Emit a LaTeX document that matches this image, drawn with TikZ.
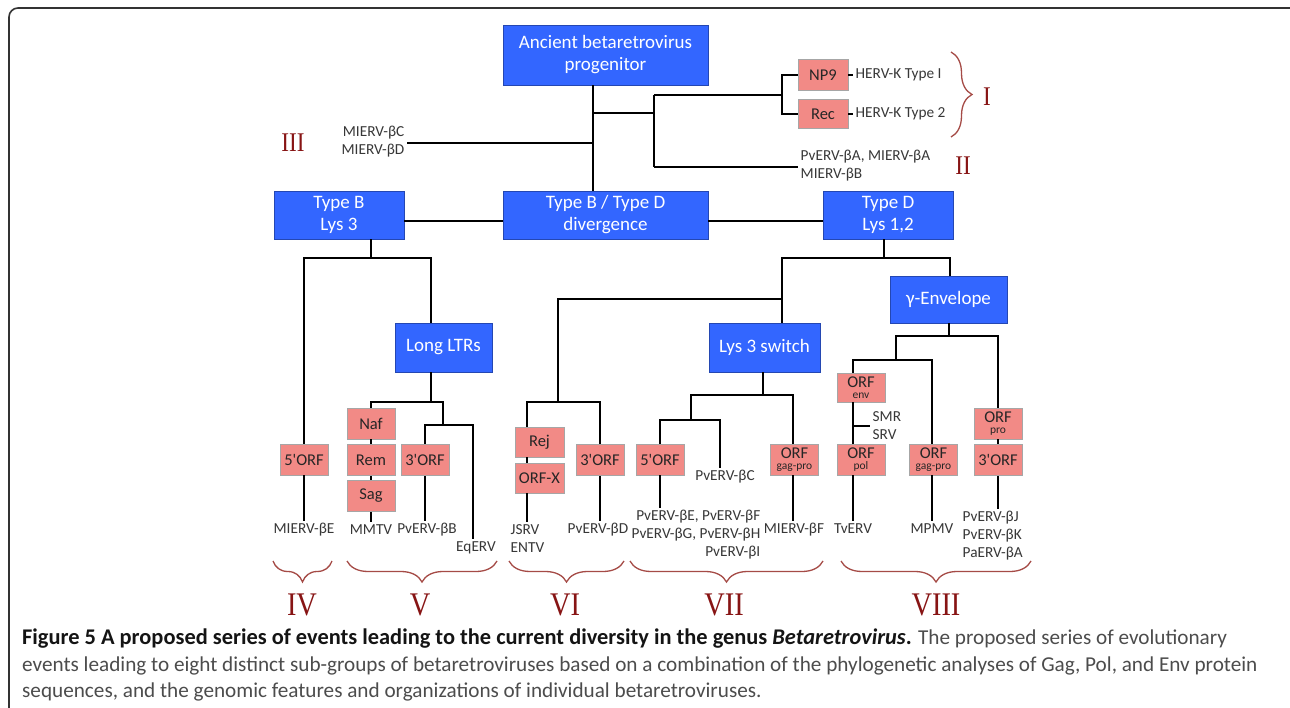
\documentclass[tikz,border=0pt]{standalone}
\usepackage{fontspec}
\setmainfont{Carlito}
\newfontfamily\numfont[FakeStretch=0.86]{Liberation Serif}
\usetikzlibrary{decorations.pathreplacing,calc}
\definecolor{boxblue}{RGB}{51,102,255}
\definecolor{orfpink}{RGB}{242,138,134}
\definecolor{bracered}{RGB}{165,75,70}
\definecolor{numred}{RGB}{135,20,20}
\definecolor{labgray}{RGB}{55,55,55}
\newcommand{\orfsub}[1]{ORF\\[-7pt]{\fontsize{11.5}{11}\selectfont #1}}
\newcommand{\orfend}[1]{#1\textquotesingle ORF}

\begin{document}
\begin{tikzpicture}[x=1pt,y=-1pt,
    event/.style={rectangle, draw=boxblue!70!black, line width=0.6pt, fill=boxblue, text=white, align=center, inner sep=0pt, font=\fontsize{19}{22}\selectfont},
    orf/.style={rectangle, draw=black!35, line width=0.6pt, fill=orfpink, text=black!85, align=center, inner sep=0pt, minimum width=48pt, minimum height=31pt, font=\fontsize{16.5}{18}\selectfont},
    taxon/.style={text=labgray, inner sep=2.5pt, font=\fontsize{15.3}{18}\selectfont},
    branch/.style={line width=2.4pt},
    grpbrace/.style={decorate, decoration={brace, amplitude=21pt}, draw=bracered, line width=1.3pt},
    grpbrace below/.style={decorate, decoration={brace, mirror, amplitude=21pt}, draw=bracered, line width=1.3pt},
    grp/.style={text=numred, inner sep=0pt, font=\numfont\fontsize{27}{27}\selectfont},
    biggrp/.style={grp, font=\numfont\fontsize{33}{33}\selectfont}
  ]
    \useasboundingbox (0,0) rectangle (1290,708);
    \draw[line width=1.6pt, black!80, rounded corners=9pt] (9,708) -- (9,8) -- (1290,8);

    \node[event, minimum width=205pt, minimum height=60pt] (anc) at (605.5,55) {Ancient betaretrovirus\\progenitor};
    \node[event, minimum width=205pt, minimum height=48pt] (div) at (605.5,215) {Type B / Type D\\divergence};
    \node[event, minimum width=130pt, minimum height=48pt] (typeb) at (339,215) {Type B\\Lys 3};
    \node[event, minimum width=130pt, minimum height=48pt] (typed) at (888,215) {Type D\\Lys 1,2};
    \node[event, minimum width=97pt, minimum height=49pt] (ltr) at (443.5,347.5) {Long LTRs};
    \node[event, minimum width=111pt, minimum height=49pt] (lys3) at (764.5,347.5) {Lys 3 switch};
    \node[event, minimum width=117pt, minimum height=47pt] (genv) at (948.5,299.5) {γ-Envelope};

    \node[orf, minimum width=50pt] (np9) at (823,75) {NP9};
    \node[orf, minimum width=50pt, minimum height=29pt] (rec) at (823,114) {Rec};
    \node[orf] (orf5a) at (304,459.5) {\orfend{5}};
    \node[orf] (naf) at (371,423.5) {Naf};
    \node[orf] (rem) at (371,460) {Rem};
    \node[orf] (sag) at (371,496) {Sag};
    \node[orf] (orf3a) at (425,460) {\orfend{3}};
    \node[orf, minimum width=49pt, minimum height=30pt] (rej) at (539.5,442) {Rej};
    \node[orf, minimum width=49pt, minimum height=30pt] (orfx) at (539.5,478) {ORF-X};
    \node[orf] (orf3b) at (600,460) {\orfend{3}};
    \node[orf] (orf5b) at (660,459.5) {\orfend{5}};
    \node[orf] (gp1) at (794.5,459.5) {\orfsub{gag-pro}};
    \node[orf, minimum height=29pt] (orfenv) at (861,387.5) {\orfsub{env}};
    \node[orf] (orfpol) at (861,459.5) {\orfsub{pol}};
    \node[orf] (gp2) at (933.5,459.5) {\orfsub{gag-pro}};
    \node[orf] (orfpro) at (998,423.5) {\orfsub{pro}};
    \node[orf] (orf3c) at (998,460) {\orfend{3}};

    \node[taxon, anchor=east, align=right] (bcd) at (407,142) {MIERV-βC\\MIERV-βD};
    \node[taxon, anchor=west] (hk1) at (853,75) {HERV-K Type I};
    \node[taxon, anchor=west] (hk2) at (853,114) {HERV-K Type 2};
    \node[taxon, anchor=west, align=left] (ba) at (798,166) {PvERV-βA, MIERV-βA\\MIERV-βB};
    \node[taxon] (be) at (304,530) {MIERV-βE};
    \node[taxon] (mmtv) at (371,530) {MMTV};
    \node[taxon] (bb) at (427,530) {PvERV-βB};
    \node[taxon] (eqerv) at (476,548) {EqERV};
    \node[taxon, anchor=west, align=left] (jsrv) at (508,539) {JSRV\\ENTV};
    \node[taxon] (bd) at (598,530) {PvERV-βD};
    \node[taxon] (bc) at (725,477) {PvERV-βC};
    \node[taxon, anchor=east, align=right] (bef) at (763,535) {PvERV-βE, PvERV-βF\\PvERV-βG, PvERV-βH\\PvERV-βI};
    \node[taxon] (bf) at (794,530) {MIERV-βF};
    \node[taxon, anchor=west, align=left] (smr) at (870,426) {SMR\\SRV};
    \node[taxon] (tverv) at (853,529) {TvERV};
    \node[taxon] (mpmv) at (932,529) {MPMV};
    \node[taxon, anchor=west, align=left] (bj) at (960,536) {PvERV-βJ\\PvERV-βK\\PaERV-βA};

    \coordinate (jA) at (593,113);
    \coordinate (jB) at (593,143);
    \coordinate (jC) at (654,95);
    \coordinate (jD) at (654,167);
    \coordinate (jE) at (782,95);
    \coordinate (jF) at (371,258);
    \coordinate (jH) at (431,258);
    \coordinate (jI) at (431,402);
    \coordinate (jJ) at (443,402);
    \coordinate (jK) at (443,425);
    \coordinate (jL) at (473,425);
    \coordinate (jM) at (884,258);
    \coordinate (jN) at (782,258);
    \coordinate (jO) at (950,258);
    \coordinate (jP) at (782,299);
    \coordinate (jQ) at (558,299);
    \coordinate (jR) at (558,402);
    \coordinate (jS) at (527,402);
    \coordinate (jU) at (763,395);
    \coordinate (jV) at (691,395);
    \coordinate (jW) at (793,395);
    \coordinate (jX) at (691,420);
    \coordinate (jZ) at (720,420);
    \coordinate (jAA) at (949,336);
    \coordinate (jAB) at (896,336);
    \coordinate (jAC) at (998,336);
    \coordinate (jAD) at (896,360);
    \coordinate (jAE) at (853,360);
    \coordinate (jAF) at (932,360);
    \coordinate (jAG) at (853,426);

    \draw[branch] (anc.south -| jA) -- (div.north -| jA);
    \draw[branch] (jA) -- (jA -| jC);
    \draw[branch] (jC) -- (jD);
    \draw[branch] (jC) -- (jE);
    \draw[branch] (np9.west) -| (jE) |- (rec.west);
    \draw[branch] (np9.east) -- (hk1.west);
    \draw[branch] (rec.east) -- (hk2.west);
    \draw[branch] (jD) -- (jD -| ba.west);
    \draw[branch] (jB) -- (jB -| bcd.east);
    \draw[branch] ([yshift=-6pt]typeb.east) -- ([yshift=-6pt]div.west);
    \draw[branch] ([yshift=-6pt]div.east) -- ([yshift=-6pt]typed.west);

    \draw[branch] (typeb.south -| jF) -- (jF);
    \draw[branch] (orf5a.north) |- (jH) -- (ltr.north -| jH);
    \draw[branch] (orf5a.south) -- (be.north);
    \draw[branch] (ltr.south -| jI) -- (jI);
    \draw[branch] (naf.north) |- (jJ) -- (jK);
    \draw[branch] (orf3a.north) |- (jL) -- (jL |- eqerv.north);
    \draw[branch] (naf.south) -- (rem.north) (rem.south) -- (sag.north) (sag.south) -- (mmtv.north);
    \draw[branch] (orf3a.south) -- (orf3a.south |- bb.north);

    \draw[branch] (typed.south -| jM) -- (jM);
    \draw[branch] (lys3.north -| jN) -- (jN) -- (jO) -- (genv.north -| jO);
    \draw[branch] (jP) -- (jQ) -- (jR);
    \draw[branch] (rej.north -| jS) -- (jS) -| (orf3b.north);
    \draw[branch] (rej.south -| jS) -- (orfx.north -| jS);
    \draw[branch] (orfx.south -| jS) -- (jsrv.north -| jS);
    \draw[branch] (orf3b.south) -- (orf3b.south |- bd.north);

    \draw[branch] (lys3.south -| jU) -- (jU);
    \draw[branch] (jX) -- (jV) -- (jW) -- (gp1.north -| jW);
    \draw[branch] (orf5b.north) |- (jZ) -- (jZ |- bc.north);
    \draw[branch] (orf5b.south) -- (orf5b.south |- bef.north);
    \draw[branch] (gp1.south -| jW) -- (bf.north -| jW);

    \draw[branch] (genv.south -| jAA) -- (jAA);
    \draw[branch] (jAD) -- (jAB) -- (jAC) -- (orfpro.north);
    \draw[branch] (orfenv.north -| jAE) -- (jAE) -- (jAF) -- (gp2.north -| jAF);
    \draw[branch] (orfenv.south -| jAE) -- (orfpol.north -| jAE);
    \draw[branch] (jAG) -- (smr.west);
    \draw[branch] (orfpol.south -| jAE) -- (tverv.north -| jAE);
    \draw[branch] (gp2.south -| jAF) -- (mpmv.north -| jAF);
    \draw[branch] (orfpro.south) -- (orf3c.north);
    \draw[branch] (orf3c.south) -- (orf3c.south |- bj.north);

    \draw[grpbrace] (951,52) -- (951,137);
    \draw[grpbrace below] (273,561) -- (332,561);
    \draw[grpbrace below] (347,561) -- (497,561);
    \draw[grpbrace below] (509,561) -- (624,561);
    \draw[grpbrace below] (630,561) -- (823,561);
    \draw[grpbrace below] (841,561) -- (1031,561);

    \node[grp] (gI) at (987,97) {I};
    \node[grp] (gII) at (963,166) {II};
    \node[grp] (gIII) at (293,143) {III};
    \node[biggrp] (gIV) at (302,605) {IV};
    \node[biggrp] (gV) at (420,605) {V};
    \node[biggrp] (gVI) at (565,605) {VI};
    \node[biggrp] (gVII) at (724,605) {VII};
    \node[biggrp] (gVIII) at (936,605) {VIII};

    \node[anchor=north west, align=left, inner sep=0pt, text=black!70, font=\fontsize{21.2}{26.5}\selectfont] (cap) at (22,629) {{\color{black!92}\fontsize{22.4}{26.5}\selectfont\textbf{Figure 5 A proposed series of events leading to the current diversity in the genus \textit{Betaretrovirus}.}} The proposed series of evolutionary\\events leading to eight distinct sub-groups of betaretroviruses based on a combination of the phylogenetic analyses of Gag, Pol, and Env protein\\sequences, and the genomic features and organizations of individual betaretroviruses.};
  \end{tikzpicture}
\end{document}
